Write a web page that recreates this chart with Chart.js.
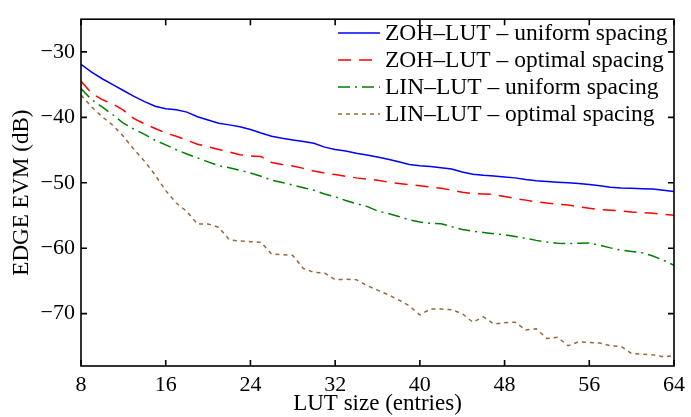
<!DOCTYPE html>
<html>
<head>
<meta charset="utf-8">
<script src="https://cdn.jsdelivr.net/npm/chart.js@4/dist/chart.umd.min.js"></script>
<style>
  html, body { margin: 0; padding: 0; background: #fff; }
  canvas { display: block; }
</style>
</head>
<body>
<canvas id="chart" width="691" height="417"></canvas>
<script>
// LUT sizes 8..64 (entries)
const lutSizes = [8, 9, 10, 11, 12, 13, 14, 15, 16, 17, 18, 19, 20, 21, 22, 23, 24, 25, 26, 27,
  28, 29, 30, 31, 32, 33, 34, 35, 36, 37, 38, 39, 40, 41, 42, 43, 44, 45, 46, 47,
  48, 49, 50, 51, 52, 53, 54, 55, 56, 57, 58, 59, 60, 61, 62, 63, 64];

// EDGE EVM (dB) per LUT size
const zohUniform = [-31.9, -33.1, -34.1, -35.0, -35.9, -36.8, -37.6, -38.3, -38.7, -38.85,
  -39.2, -39.9, -40.4, -40.9, -41.15, -41.45, -41.85, -42.4, -42.9, -43.2,
  -43.45, -43.7, -43.95, -44.55, -44.9, -45.15, -45.5, -45.75, -46.05, -46.4,
  -46.8, -47.2, -47.4, -47.5, -47.7, -47.9, -48.35, -48.7, -48.85, -48.95,
  -49.1, -49.25, -49.5, -49.7, -49.8, -49.9, -50.0, -50.1, -50.25, -50.45,
  -50.7, -50.8, -50.85, -50.9, -50.95, -51.15, -51.35];

const zohOptimal = [-34.5, -36.3, -37.3, -37.95, -38.9, -40.2, -41.0, -41.7, -42.4, -42.9,
  -43.5, -44.1, -44.5, -44.9, -45.3, -45.7, -45.9, -46.0, -46.9, -47.2,
  -47.45, -47.8, -48.2, -48.5, -48.75, -49.0, -49.25, -49.45, -49.6, -49.9,
  -50.1, -50.3, -50.45, -50.65, -50.85, -51.1, -51.45, -51.65, -51.7, -51.8,
  -52.1, -52.4, -52.65, -52.9, -53.1, -53.25, -53.4, -53.65, -53.9, -54.1,
  -54.2, -54.3, -54.45, -54.55, -54.65, -54.8, -54.95];

const linUniform = [-35.6, -37.3, -38.4, -39.6, -40.9, -41.8, -42.6, -43.5, -44.2, -44.95,
  -45.6, -46.2, -46.8, -47.4, -47.7, -48.1, -48.5, -49.0, -49.6, -49.95,
  -50.35, -50.75, -51.15, -51.7, -52.15, -52.7, -53.2, -53.6, -54.3, -54.7,
  -55.15, -55.65, -56.0, -56.2, -56.25, -56.7, -57.15, -57.4, -57.6, -57.8,
  -57.95, -58.2, -58.5, -58.8, -59.05, -59.25, -59.3, -59.25, -59.2, -59.55,
  -59.95, -60.3, -60.5, -60.7, -61.2, -61.85, -62.6];

const linOptimal = [-36.6, -38.4, -39.9, -41.2, -42.9, -44.9, -46.7, -48.8, -51.2, -53.1,
  -54.4, -56.3, -56.3, -56.8, -58.7, -58.9, -59.0, -59.1, -60.9, -61.0,
  -61.1, -63.1, -63.7, -63.8, -64.8, -64.75, -64.8, -65.7, -66.4, -67.1,
  -67.9, -68.8, -70.2, -69.3, -69.3, -69.4, -70.0, -71.3, -70.5, -71.6,
  -71.4, -71.3, -72.5, -72.3, -73.8, -73.6, -74.9, -74.3, -74.4, -74.5,
  -74.9, -75.0, -76.1, -76.2, -76.3, -76.6, -76.4];

const seriesNames = [
  'ZOH\u2013LUT \u2013 uniform spacing',
  'ZOH\u2013LUT \u2013 optimal spacing',
  'LIN\u2013LUT \u2013 uniform spacing',
  'LIN\u2013LUT \u2013 optimal spacing'
];

const xTicks = [8, 16, 24, 32, 40, 48, 56, 64];
const yTicks = [-70, -60, -50, -40, -30];

const FONT = '"Liberation Serif", "Times New Roman", serif';

function toPoints(values) {
  return values.map((v, i) => ({ x: lutSizes[i], y: v }));
}

// box around the plot with inward ticks on every side
const frame = {
  id: 'frame',
  afterDraw(chart) {
    const { ctx, chartArea: a, scales } = chart;
    const len = 6;
    ctx.save();
    ctx.strokeStyle = '#000';
    ctx.lineWidth = 1.6;
    ctx.strokeRect(a.left, a.top, a.right - a.left, a.bottom - a.top);
    ctx.beginPath();
    xTicks.forEach(v => {
      const x = scales.x.getPixelForValue(v);
      ctx.moveTo(x, a.bottom); ctx.lineTo(x, a.bottom - len);
      ctx.moveTo(x, a.top); ctx.lineTo(x, a.top + len);
    });
    yTicks.forEach(v => {
      const y = scales.y.getPixelForValue(v);
      ctx.moveTo(a.left, y); ctx.lineTo(a.left + len, y);
      ctx.moveTo(a.right, y); ctx.lineTo(a.right - len, y);
    });
    ctx.stroke();
    ctx.restore();
  }
};

// legend in the upper right corner, no box
const insideLegend = {
  id: 'insideLegend',
  afterDraw(chart) {
    const ctx = chart.ctx;
    const x0 = 338, x1 = 380, tx = 385, y0 = 34, step = 27;
    ctx.save();
    ctx.font = '23.5px ' + FONT;
    ctx.textBaseline = 'middle';
    ctx.fillStyle = '#000';
    chart.data.datasets.forEach((ds, i) => {
      const y = y0 + i * step;
      ctx.beginPath();
      ctx.strokeStyle = ds.borderColor;
      ctx.lineWidth = ds.borderWidth;
      ctx.setLineDash(ds.borderDash || []);
      ctx.moveTo(x0, y - 1);
      ctx.lineTo(x1, y - 1);
      ctx.stroke();
      ctx.setLineDash([]);
      ctx.fillText(ds.label, tx, y);
    });
    ctx.restore();
  }
};

new Chart(document.getElementById('chart'), {
  type: 'line',
  data: {
    datasets: [
      { label: seriesNames[0], data: toPoints(zohUniform), borderColor: '#0000ff', borderWidth: 1.5 },
      { label: seriesNames[1], data: toPoints(zohOptimal), borderColor: '#ff0000', borderWidth: 1.5, borderDash: [13, 8] },
      { label: seriesNames[2], data: toPoints(linUniform), borderColor: '#008000', borderWidth: 1.5, borderDash: [12, 5, 2, 5] },
      { label: seriesNames[3], data: toPoints(linOptimal), borderColor: '#99663a', borderWidth: 1.5, borderDash: [4, 4] }
    ]
  },
  options: {
    responsive: false,
    animation: false,
    layout: { padding: { top: 10, right: 13, left: 0, bottom: 0 } },
    elements: { point: { radius: 0 }, line: { tension: 0 } },
    plugins: {
      legend: { display: false },
      tooltip: { enabled: false }
    },
    scales: {
      x: {
        type: 'linear',
        min: 8,
        max: 64,
        afterBuildTicks: s => { s.ticks = xTicks.map(v => ({ value: v })); },
        afterFit: s => { s.height = 51; },
        grid: { display: false, drawTicks: false },
        border: { display: false },
        ticks: { color: '#000', font: { family: FONT, size: 22 }, padding: 6, maxRotation: 0 },
        title: { display: true, text: 'LUT size (entries)', color: '#000', font: { family: FONT, size: 23 }, padding: { top: 0, bottom: -1 } }
      },
      y: {
        type: 'linear',
        min: -78,
        max: -25,
        afterBuildTicks: s => { s.ticks = yTicks.map(v => ({ value: v })); },
        afterFit: s => { s.width = 81; },
        grid: { display: false, drawTicks: false },
        border: { display: false },
        ticks: {
          color: '#000',
          font: { family: FONT, size: 22 },
          padding: 6,
          callback: v => String(v).replace('-', '\u2212')
        },
        title: { display: true, text: 'EDGE EVM (dB)', color: '#000', font: { family: FONT, size: 23 }, padding: { top: 8, bottom: 0 } }
      }
    }
  },
  plugins: [frame, insideLegend]
});
</script>
</body>
</html>
